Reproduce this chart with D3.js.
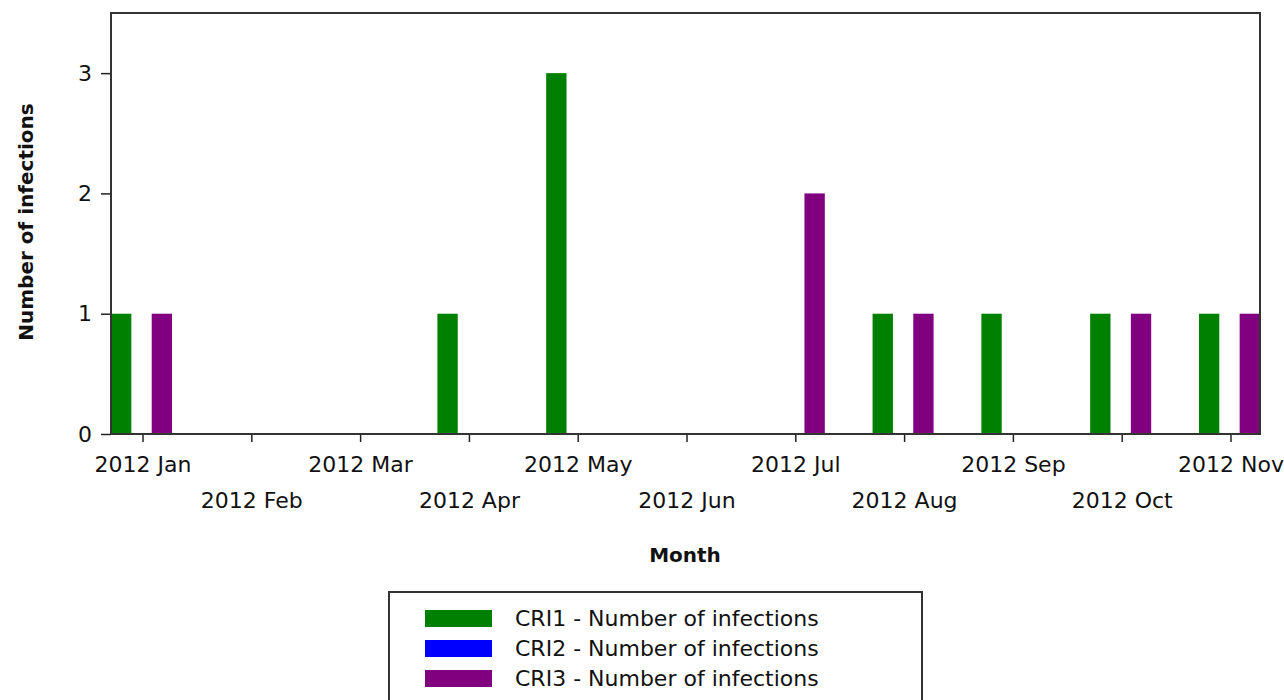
<!DOCTYPE html>
<html>
<head>
<meta charset="utf-8">
<script src="https://cdn.jsdelivr.net/npm/d3@7"></script>
<style>
  body { margin: 0; background: #fff; }
  text { font-family: "DejaVu Sans", sans-serif; fill: #111; }
  .tick-label { font-size: 22px; }
  .axis-title { font-size: 20px; font-weight: bold; }
</style>
</head>
<body>
<div id="chart"></div>
<script>
// data
const months = ["2012 Jan", "2012 Feb", "2012 Mar", "2012 Apr", "2012 May", "2012 Jun",
                "2012 Jul", "2012 Aug", "2012 Sep", "2012 Oct", "2012 Nov"];
const cri1 = [1, 0, 0, 1, 3, 0, 0, 1, 1, 1, 1];
const cri2 = [0, 0, 0, 0, 0, 0, 0, 0, 0, 0, 0];
const cri3 = [1, 0, 0, 0, 0, 0, 2, 1, 0, 1, 1];
const seriesNames = ["CRI1 - Number of infections", "CRI2 - Number of infections", "CRI3 - Number of infections"];
const seriesColors = ["#008000", "#0000ff", "#800080"];
const yTicks = [0, 1, 2, 3];

const width = 1284, height = 700;
const margin = { top: 13, right: 24, bottom: 266, left: 111 };
const barFrac = 0.187; // bar width as part of one month

const svg = d3.select("#chart").append("svg")
  .attr("width", width)
  .attr("height", height);

// + SCALES
const half = 1.5 * barFrac;
const xScale = d3.scaleLinear()
  .domain([-half, months.length - 1 + half])
  .range([margin.left, width - margin.right]);

const yScale = d3.scaleLinear()
  .domain([0, 3.5])
  .range([height - margin.bottom, margin.top]);

const series = [cri1, cri2, cri3];

// + BARS
series.forEach((vals, s) => {
  svg.append("g")
    .selectAll("rect")
    .data(vals)
    .join("rect")
    .attr("x", (d, i) => xScale(i - half + s * barFrac))
    .attr("width", xScale(barFrac) - xScale(0))
    .attr("y", d => yScale(d))
    .attr("height", d => yScale(0) - yScale(d))
    .attr("fill", seriesColors[s]);
});

// + AXES
const xAxis = d3.axisBottom(xScale)
  .tickValues(d3.range(months.length))
  .tickFormat(i => months[i])
  .tickSize(8)
  .tickSizeOuter(0);

const gx = svg.append("g")
  .attr("transform", `translate(1,${yScale(0)})`)
  .call(xAxis);
gx.select(".domain").remove();
gx.selectAll(".tick line").attr("stroke", "#222").attr("stroke-width", 1.5);
gx.selectAll(".tick text")
  .attr("class", "tick-label")
  .attr("font-family", null)
  .attr("font-size", null)
  .attr("fill", null)
  .attr("dy", null)
  .attr("y", (d, i) => i % 2 === 0 ? 38 : 74);

const yAxis = d3.axisLeft(yScale)
  .tickValues(yTicks)
  .tickFormat(d3.format("d"))
  .tickSize(10)
  .tickPadding(9);

const gy = svg.append("g")
  .attr("transform", `translate(${margin.left},0)`)
  .call(yAxis);
gy.select(".domain").remove();
gy.selectAll(".tick line").attr("stroke", "#222").attr("stroke-width", 1.5);
gy.selectAll(".tick text")
  .attr("class", "tick-label")
  .attr("font-family", null)
  .attr("font-size", null)
  .attr("fill", null);

// frame round the plot
svg.append("rect")
  .attr("x", margin.left)
  .attr("y", margin.top)
  .attr("width", width - margin.right - margin.left)
  .attr("height", yScale(0) - margin.top)
  .attr("fill", "none")
  .attr("stroke", "#333")
  .attr("stroke-width", 2);

// axis titles
svg.append("text")
  .attr("class", "axis-title")
  .attr("x", 685)
  .attr("y", 562)
  .attr("text-anchor", "middle")
  .text("Month");

svg.append("text")
  .attr("class", "axis-title")
  .attr("transform", "translate(33,222) rotate(-90)")
  .attr("text-anchor", "middle")
  .text("Number of infections");

// + LEGEND
const legend = svg.append("g").attr("transform", "translate(389,592)");
legend.append("rect")
  .attr("width", 533)
  .attr("height", 130)
  .attr("fill", "none")
  .attr("stroke", "#333")
  .attr("stroke-width", 2);

const item = legend.selectAll("g.item")
  .data(seriesNames)
  .join("g")
  .attr("class", "item")
  .attr("transform", (d, i) => `translate(36,${18 + i * 30})`);

item.append("rect")
  .attr("width", 67)
  .attr("height", 17)
  .attr("fill", (d, i) => seriesColors[i]);

item.append("text")
  .attr("class", "tick-label")
  .attr("x", 90)
  .attr("y", 16)
  .text(d => d);
</script>
</body>
</html>
